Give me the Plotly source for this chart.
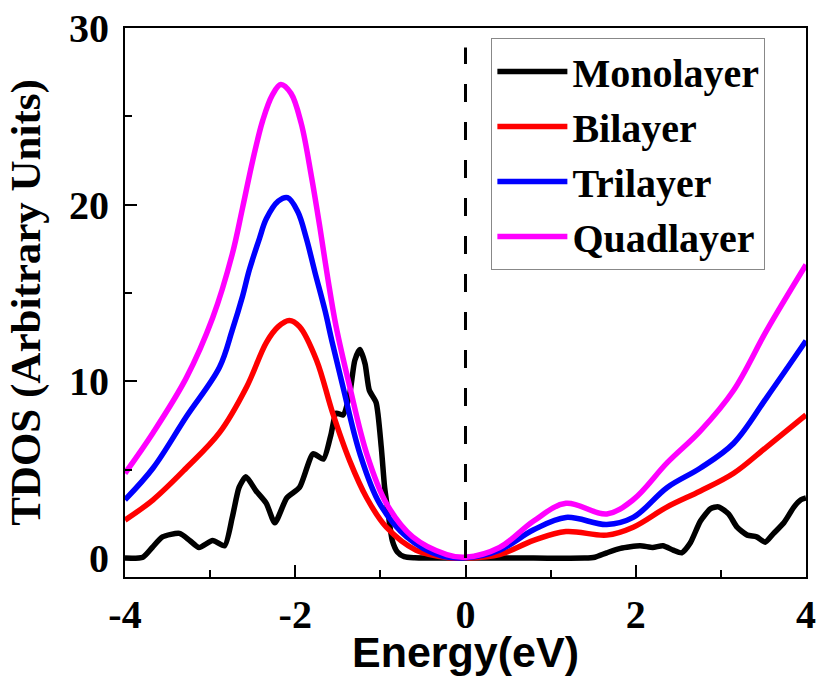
import plotly.graph_objects as go

# ---- data ----
series_names = ["Monolayer", "Bilayer", "Trilayer", "Quadlayer"]
series_colors = ["#000000", "#FF0000", "#0000FF", "#FF00FF"]

mono_x = [-4, -3.79, -3.68, -3.56, -3.36, -3.24, -3.13, -2.97, -2.83, -2.74, -2.66, -2.58,
          -2.46, -2.34, -2.24, -2.1, -1.95, -1.79, -1.67, -1.58, -1.52, -1.44, -1.36, -1.3,
          -1.24, -1.18, -1.13, -1.05, -0.99, -0.95, -0.91, -0.86, -0.8, -0.72, -0.6, 0.0, 0.8, 1.4,
          1.52, 1.66, 1.82, 2.05, 2.2, 2.32, 2.44, 2.54, 2.64, 2.76, 2.88, 2.97, 3.09, 3.19, 3.31,
          3.42, 3.52, 3.62, 3.74, 3.86, 3.94, 4.0]
mono_y = [0, 0.05, 0.6, 1.2, 1.4, 1.0, 0.6, 1.0, 0.7, 2.3, 4.0, 4.6,
          3.8, 3.1, 2.0, 3.4, 4.0, 5.9, 5.6, 7.0, 8.2, 8.1, 9.3, 11.2,
          11.8, 11.0, 9.5, 8.8, 6.3, 4.0, 2.6, 1.0, 0.35, 0.08, 0.02, 0, 0, 0,
          0.05, 0.3, 0.55, 0.7, 0.6, 0.7, 0.45, 0.3, 0.85, 2.1, 2.8, 2.9, 2.5, 1.75, 1.3,
          1.2, 0.9, 1.4, 2.0, 2.9, 3.3, 3.4]

bi_x = [-4, -3.67, -3.28, -2.89, -2.57, -2.34, -2.2, -2.07, -1.95, -1.75, -1.56, -1.36, -1.16,
        -0.93, -0.58, -0.19, 0, 0.4, 0.8, 1.18, 1.66, 1.97, 2.37, 2.76, 3.15, 3.54, 4]
bi_y = [2.15, 3.3, 5.1, 7.1, 9.7, 12.2, 13.1, 13.45, 13.1, 11.2, 8.2, 5.5, 3.4,
        1.75, 0.45, 0.02, 0.0, 0.2, 1.0, 1.5, 1.3, 1.75, 2.9, 3.8, 4.8, 6.3, 8.1]

tri_x = [-4, -3.67, -3.28, -2.89, -2.74, -2.62, -2.54, -2.42, -2.34, -2.2, -2.09, -1.97, -1.87,
         -1.77, -1.65, -1.57, -1.44, -1.24, -1.01, -0.69, -0.3, 0, 0.4, 0.8, 1.18, 1.66, 1.97,
         2.37, 2.76, 3.15, 3.54, 4]
tri_y = [3.3, 5.1, 8.0, 10.8, 12.9, 14.8, 16.3, 18.1, 19.2, 20.2, 20.4, 19.6, 18.1,
         16.2, 14.0, 12.3, 9.7, 5.9, 3.1, 1.2, 0.15, 0.02, 0.45, 1.6, 2.3, 1.9, 2.3,
         4.0, 5.1, 6.5, 9.1, 12.3]

quad_x = [-4, -3.67, -3.28, -2.97, -2.74, -2.62, -2.5, -2.38, -2.27, -2.17, -2.05, -1.93,
          -1.81, -1.71, -1.62, -1.52, -1.36, -1.16, -0.93, -0.62, -0.22, 0, 0.4, 0.8, 1.18,
          1.66, 1.97, 2.37, 2.76, 3.15, 3.54, 4]
quad_y = [4.8, 7.1, 10.2, 13.6, 17.2, 19.8, 22.5, 24.8, 26.2, 26.8, 26.3, 24.6,
          21.6, 18.7, 15.9, 13.1, 9.7, 5.9, 3.1, 1.2, 0.2, 0.05, 0.6, 2.1, 3.1,
          2.5, 3.3, 5.4, 7.2, 9.5, 12.9, 16.6]

fermi_x = [0, 0]
fermi_y = [0, 28.9]

x_tick_vals = [-4, -2, 0, 2, 4]
x_tick_text = ["-4", "-2", "0", "2", "4"]
y_tick_vals = [0, 10, 20, 30]
y_tick_text = ["0", "10", "20", "30"]

x_range = [-4, 4]
y_range = [-1.07, 30]

serif = '"Liberation Serif", "Times New Roman", serif'
sans = '"Liberation Sans", Arial, sans-serif'

fig = go.Figure()
data = [(mono_x, mono_y), (bi_x, bi_y), (tri_x, tri_y), (quad_x, quad_y)]
for (xs, ys), name, col in zip(data, series_names, series_colors):
    fig.add_trace(go.Scatter(
        x=xs, y=ys, name=name, mode="lines",
        line=dict(color=col, width=5.5, shape="spline",
                  smoothing=0.6 if name == "Monolayer" else 1.0),
    ))

fig.add_trace(go.Scatter(
    x=fermi_x, y=fermi_y, mode="lines", showlegend=False,
    line=dict(color="black", width=3, dash="18px,20px"),
))

axis_common = dict(
    showline=True, linecolor="black", linewidth=2, mirror=True,
    showgrid=False, zeroline=False, automargin=False,
    ticks="inside", ticklen=12, tickwidth=2, tickcolor="black",
    tickfont=dict(family=serif, size=40, color="black", weight="bold"),
    tickmode="array",
)

fig.update_layout(
    width=817, height=676,
    margin=dict(l=125, r=11, t=28, b=99),
    paper_bgcolor="white", plot_bgcolor="white",
    xaxis=dict(
        range=x_range, tickvals=x_tick_vals, ticktext=x_tick_text,
        minor=dict(tick0=-4, dtick=1, ticks="inside", ticklen=7, tickwidth=2,
                   tickcolor="black", showgrid=False),
        title=dict(text="Energy(eV)",
                   font=dict(family=sans, size=43, color="black", weight="bold")),
        ticklabelstandoff=1,
        **axis_common,
    ),
    yaxis=dict(
        range=y_range, tickvals=y_tick_vals, ticktext=y_tick_text,
        minor=dict(tick0=0, dtick=5, ticks="inside", ticklen=7, tickwidth=2,
                   tickcolor="black", showgrid=False),
        title=dict(text="TDOS (Arbitrary Units)",
                   font=dict(family=serif, size=43, color="black", weight="bold")),
        ticklabelstandoff=6,
        **axis_common,
    ),
    legend=dict(
        x=0.538, y=0.982, xanchor="left", yanchor="top",
        bgcolor="white", bordercolor="#888888", borderwidth=1,
        font=dict(family=serif, size=40, color="black", weight="bold"),
        tracegroupgap=0, itemwidth=70,
    ),
    showlegend=True,
)

fig.write_html("out.html")
